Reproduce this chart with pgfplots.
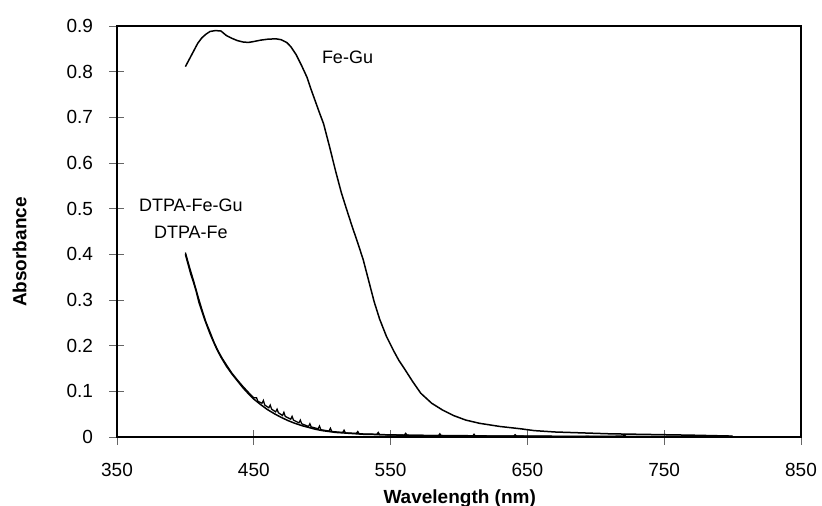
\documentclass[border=0pt]{standalone}
\usepackage{pgfplots}
\pgfplotsset{compat=1.18}
\usepackage{fontspec}
\setmainfont{Liberation Sans}
\begin{document}
\begin{tikzpicture}
\begin{axis}[name=ax, at={(0,0)}, anchor=south west,
  scale only axis, width=684pt, height=411pt,
  xmin=350, xmax=850, ymin=0, ymax=0.9,
  xtick={350,450,550,650,750,850},
  ytick={0,0.1,0.2,0.3,0.4,0.5,0.6,0.7,0.8,0.9},
  tick align=center, major tick length=15pt,
  tick style={black!60, line width=0.6pt},
  xtick pos=bottom, ytick pos=left,
  axis line style={line width=1.3pt},
  /pgf/number format/assume math mode=true,
  /pgf/number format/.cd, fixed, precision=1, /pgfplots/.cd,
  ticklabel style={font=\fontsize{19}{22}\selectfont},
  yticklabel style={anchor=east, xshift=-13pt},
  xticklabel style={anchor=north, yshift=-15pt},
  xlabel={Wavelength (nm)}, ylabel={Absorbance},
  label style={font=\fontsize{19}{22}\selectfont\bfseries},
  xlabel style={at={(axis description cs:0.501,0)}, anchor=north, yshift=-49pt},
  ylabel style={at={(axis description cs:0,0.45)}, anchor=south, yshift=87pt},
]
\addplot[black, line width=1.5pt] coordinates {
(400,0.811) (403,0.828) (406,0.845) (409,0.862) (412,0.874) (415,0.882) (418,0.888)
(422,0.890) (426,0.889) (430,0.879) (434,0.873) (438,0.868) (442,0.865) (446,0.864)
(450,0.866) (455,0.869) (460,0.871) (466,0.872) (470,0.870) (474,0.864) (477,0.855)
(481,0.837) (485,0.813) (489,0.787) (492,0.760) (495,0.735) (498,0.710) (501,0.686)
(505,0.640) (510,0.580) (514,0.535) (518,0.497) (522,0.460) (526,0.425) (530,0.388)
(534,0.342) (538,0.296) (542,0.258) (547,0.220) (552,0.190) (556,0.168) (560,0.150)
(566,0.122) (572,0.096) (580,0.074) (588,0.059) (596,0.047) (605,0.037) (615,0.030)
(630,0.023) (645,0.018) (655,0.014) (670,0.011) (690,0.009) (710,0.007) (730,0.006)
(750,0.005) (770,0.004) (785,0.003) (800,0.002)
};
\addplot[black, line width=1.5pt] coordinates {
(400,0.400) (402,0.378) (404,0.356) (406,0.338) (408,0.318) (410,0.294) (412,0.276)
(414,0.258) (416,0.242) (418,0.226) (420,0.212) (423,0.192) (426,0.175) (430,0.155)
(434,0.138) (438,0.123) (442,0.108) (446,0.095) (450,0.083) (455,0.071) (460,0.060)
(465,0.051) (470,0.043) (475,0.036) (480,0.030) (485,0.025) (490,0.021) (495,0.017)
(500,0.014) (510,0.010) (520,0.008) (530,0.006) (545,0.005) (560,0.004) (580,0.003)
(600,0.003) (625,0.002) (650,0.002) (700,0.001) (750,0.001) (800,0.001)
};
\addplot[black, line width=1.3pt] coordinates {
(400,0.404) (403,0.372) (406,0.342) (409,0.310) (412,0.280) (415,0.252) (418,0.230)
(421,0.207) (424,0.188) (427,0.172) (430,0.158) (434,0.140) (438,0.125) (442,0.111)
(446,0.098) (450,0.086) (452,0.086) (453,0.078) (456,0.074) (457,0.080) (458,0.070)
(461,0.064) (462,0.070) (463,0.061) (466,0.055) (467,0.061) (468,0.053) (471,0.047)
(472,0.054) (473,0.045) (477,0.039) (478,0.045) (479,0.037) (483,0.031) (484,0.037)
(485,0.029) (490,0.023) (491,0.029) (492,0.022) (497,0.018) (498,0.024) (499,0.016)
(505,0.013) (506,0.019) (507,0.012) (515,0.010) (516,0.015) (517,0.009) (525,0.008)
(526,0.012) (527,0.007) (540,0.006) (541,0.010) (542,0.005) (560,0.004) (561,0.008)
(562,0.004) (585,0.003) (586,0.007) (587,0.003) (610,0.002) (611,0.006) (612,0.002)
(640,0.002) (641,0.005) (642,0.002) (680,0.001) (720,0.002) (721,0.005) (722,0.001)
(760,0.001) (800,0.001)
};
\node[font=\fontsize{18}{21}\selectfont] at (axis cs:518.5,0.831) {Fe-Gu};
\node[font=\fontsize{18}{21}\selectfont] at (axis cs:404,0.508) {DTPA-Fe-Gu};
\node[font=\fontsize{18}{21}\selectfont] at (axis cs:404,0.449) {DTPA-Fe};
\end{axis}
\pgfresetboundingbox
\path[use as bounding box] ([xshift=-117pt,yshift=-69pt]ax.south west) rectangle ([xshift=21pt,yshift=26pt]ax.north east);
\end{tikzpicture}
\end{document}
